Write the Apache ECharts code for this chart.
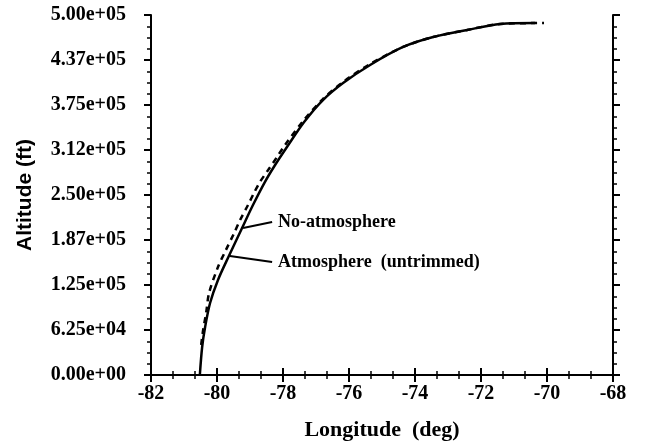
<!DOCTYPE html>
<html><head><meta charset="utf-8">
<script src="https://cdn.jsdelivr.net/npm/echarts@6/dist/echarts.min.js"></script>
<style>html,body{margin:0;padding:0;background:#fff}#c{width:645px;height:447px}</style>
</head><body><div id="c"></div>
<script>
// Altitude vs longitude
const yTickLabels = ['0.00e+00','6.25e+04','1.25e+05','1.87e+05','2.50e+05','3.12e+05','3.75e+05','4.37e+05','5.00e+05'];
const atmLon = [-80.52,-80.45,-80.36,-80.21,-79.97,-79.64,-79.24,-78.91,-78.55,-78.24,-77.88,-77.36,-76.79,-76.18,-75.36,-74.36,-73.45,-72.42,-71.42,-70.36];
const atmAlt = [0,38900,66700,100000,132000,165300,204200,236100,268000,291700,316700,351400,381900,405600,430600,455600,469400,479200,487500,488900];
const noAtmLon = [-80.48,-80.42,-80.33,-80.24,-79.97,-79.73,-79.48,-79.30,-79.06,-78.88,-78.70,-78.45,-78.18,-77.94,-77.39,-76.79,-76.18,-75.36,-74.36,-73.45,-72.42,-71.42,-70.09];
const noAtmAlt = [41700,62500,86100,113900,150000,173600,197200,215300,236100,252800,268000,284700,302800,319400,352800,383300,406900,431900,455600,469400,479200,487500,488900];
const annNames = ['No-atmosphere','Atmosphere  (untrimmed)'];
const annFrom = [[-79.21,204200],[-79.61,165300]];
const annTo = [[-78.33,212500],[-78.33,156900]];

const zip = (a,b)=>a.map((v,i)=>[v,b[i]]);
const serif = 'Liberation Serif';
const axLine = {show:true, lineStyle:{color:'#000', width:2}};
const tick = {show:true, inside:false, length:7, lineStyle:{color:'#000', width:2}};
const minorX = {show:true, splitNumber:3, length:4, lineStyle:{color:'#000', width:1.5}};
const minorY = {show:true, splitNumber:4, length:4, lineStyle:{color:'#000', width:1.5}};

const series = [
  {name:'Atmosphere (untrimmed)', type:'line', data:zip(atmLon,atmAlt), showSymbol:false, smooth:0.3,
   lineStyle:{color:'#000', width:2.5}, z:3},
  {name:'No-atmosphere', type:'line', data:zip(noAtmLon,noAtmAlt), showSymbol:false, smooth:0.3,
   lineStyle:{color:'#000', width:2.5, type:[6,5]}, z:2}
];
annNames.forEach((n,i)=>{
  series.push({name:'ann'+i, type:'line', data:[annFrom[i],annTo[i]], showSymbol:false,
    lineStyle:{color:'#000', width:2}, silent:true,
    endLabel:{show:true, formatter:()=>n, distance:6, color:'#000',
      fontFamily:serif, fontWeight:'bold', fontSize:18}});
});

const chart = echarts.init(document.getElementById('c'));
chart.setOption({
  animation:false,
  grid:{left:151, right:32, top:15, bottom:72},
  xAxis:[
    {type:'value', min:-82, max:-68, interval:2, position:'bottom',
     axisLine:axLine, axisTick:tick, minorTick:minorX, splitLine:{show:false},
     axisLabel:{color:'#000', fontFamily:serif, fontWeight:'bold', fontSize:20, margin:9},
     name:'Longitude  (deg)', nameLocation:'middle', nameGap:44,
     nameTextStyle:{color:'#000', fontFamily:serif, fontWeight:'bold', fontSize:22}},
    {type:'value', min:-82, max:-68, interval:2, position:'top',
     axisLine:axLine, axisTick:tick, minorTick:minorX, splitLine:{show:false},
     axisLabel:{show:false}}
  ],
  yAxis:[
    {type:'value', min:0, max:500000, interval:62500, position:'left',
     axisLine:axLine, axisTick:tick, minorTick:minorY, splitLine:{show:false},
     axisLabel:{color:'#000', fontFamily:serif, fontWeight:'bold', fontSize:20, margin:25,
       formatter:(v)=>yTickLabels[Math.round(v/62500)]},
     name:'Altitude (ft)', nameLocation:'middle', nameGap:115, nameRotate:90,
     nameTextStyle:{color:'#000', fontFamily:'Liberation Sans', fontWeight:'bold', fontSize:21}},
    {type:'value', min:0, max:500000, interval:62500, position:'right',
     axisLine:axLine, axisTick:tick, minorTick:minorY, splitLine:{show:false},
     axisLabel:{show:false}}
  ],
  series:series
});
</script></body></html>
